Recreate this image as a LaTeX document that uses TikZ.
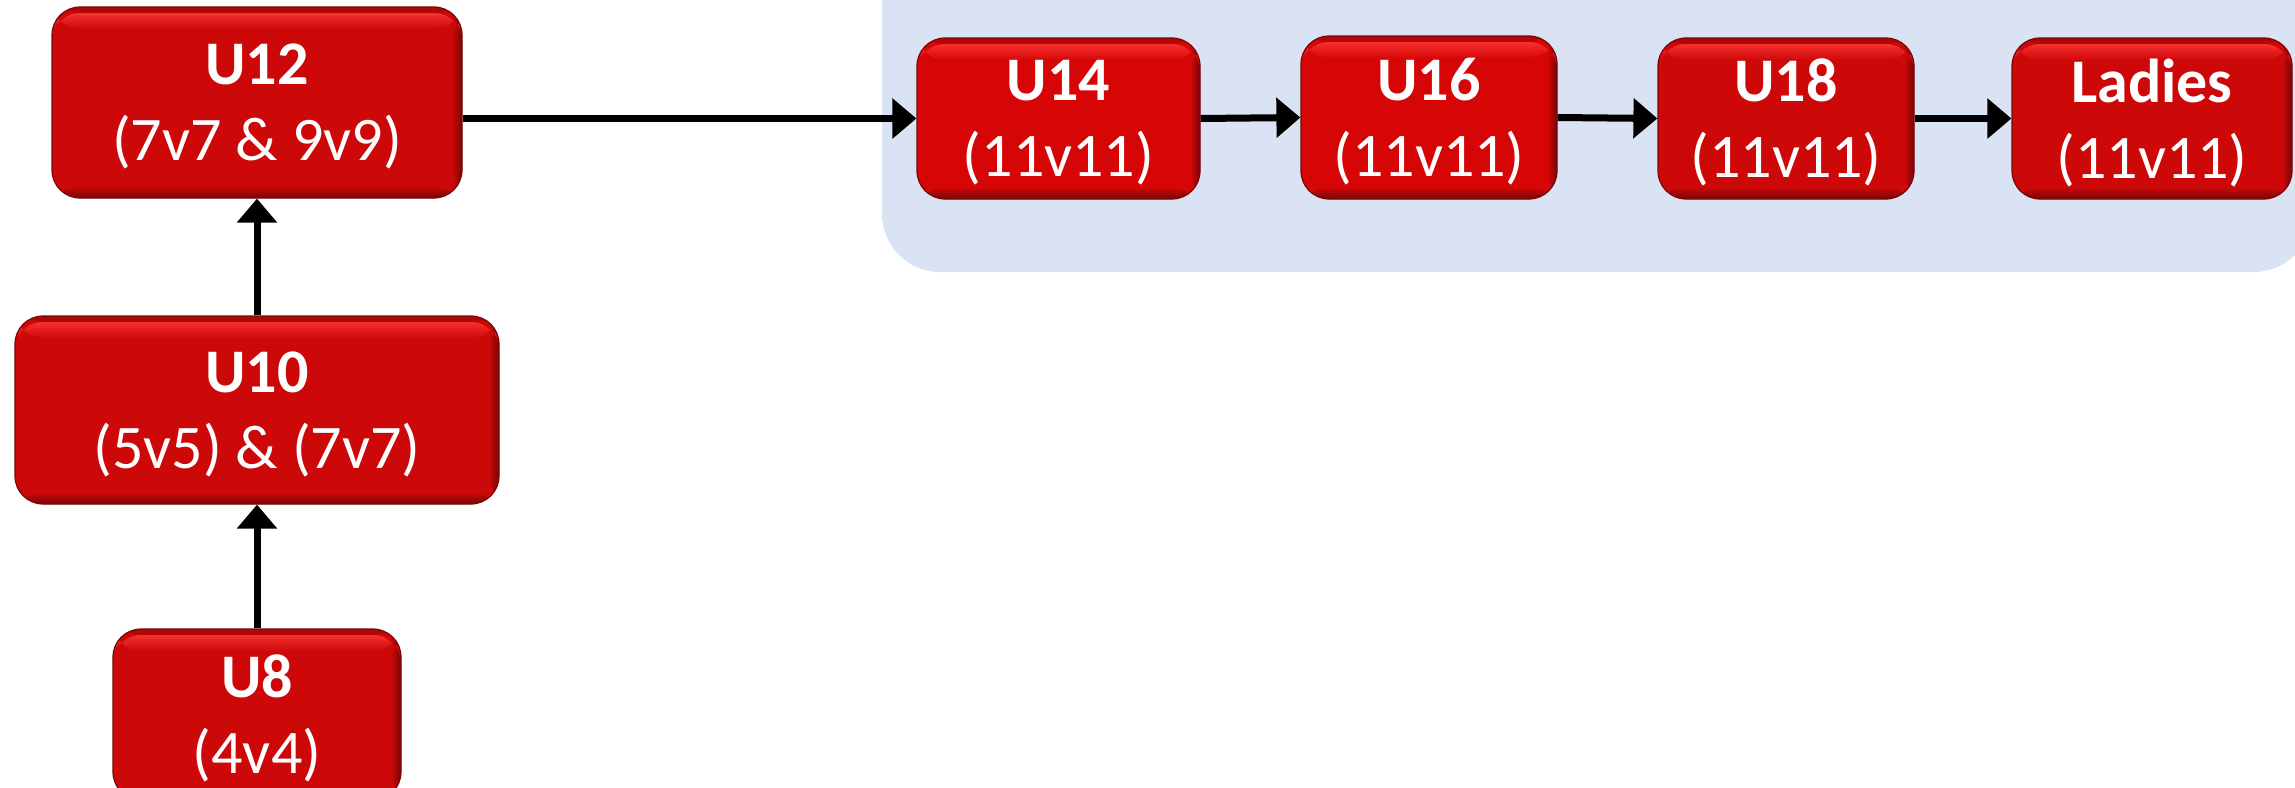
\documentclass[tikz,border=0pt]{standalone}
\usepackage{fontspec}
\setmainfont{Carlito}
\usetikzlibrary{arrows.meta}
\definecolor{boxred}{RGB}{204,8,8}
\definecolor{boxredb}{RGB}{214,6,6}
\definecolor{boxhl}{RGB}{248,48,48}
\definecolor{boxdark}{RGB}{120,6,6}
\definecolor{panelblue}{RGB}{218,227,243}
\begin{document}
\begin{tikzpicture}[x=0.5pt,y=-0.5pt,
  agebox/.style={rounded corners=14pt, fill=#1, draw=boxdark, line width=0.6pt,
    text=white, align=center, inner sep=0pt,
    font=\fontsize{31}{38}\selectfont,
    path picture={
      \shade[top color=#1!85!black, bottom color=boxhl]
        (path picture bounding box.north west) rectangle
        ([yshift=-3pt]path picture bounding box.north east);
      \shade[top color=boxhl, bottom color=#1]
        ([yshift=-3pt]path picture bounding box.north west) rectangle
        ([yshift=-11pt]path picture bounding box.north east);
      \shade[left color=#1, right color=boxdark]
        ([xshift=-5pt,yshift=-3pt]path picture bounding box.north east) rectangle
        (path picture bounding box.south east);
      \shade[top color=#1, bottom color=boxdark]
        ([yshift=6pt]path picture bounding box.south west) rectangle
        (path picture bounding box.south east);
    }},
  agebox/.default=boxred,
  conn/.style={line width=3.5pt, -{Triangle[length=12pt,width=19.5pt]}}]
\useasboundingbox (0,0) rectangle (2295,787);
% panel
\fill[panelblue, rounded corners=29pt] (882,-80) rectangle (2312,272);
% nodes
\node[agebox, minimum width=205pt, minimum height=95.5pt] (u12) at (257,102.5)
  {\textbf{U12}\\\smash{(7v7 \& 9v9)}};
\node[agebox, minimum width=242pt, minimum height=94pt] (u10) at (257,410)
  {\textbf{U10}\\\smash{(5v5) \& (7v7)}};
\node[agebox, minimum width=144pt, minimum height=85.5pt] (u8) at (257,714.5)
  {\textbf{U8}\\\smash{(4v4)}};
\node[agebox=boxredb, minimum width=141.5pt, minimum height=80.5pt] (u14) at (1058.5,118.5)
  {\textbf{U14}\\\smash{(11v11)}};
\node[agebox=boxredb, minimum width=128pt, minimum height=81.5pt] (u16) at (1429,117.5)
  {\textbf{U16}\\\smash{(11v11)}};
\node[agebox, minimum width=128pt, minimum height=80.5pt] (u18) at (1786,118.5)
  {\textbf{U18}\\\smash{(11v11)}};
\node[agebox, minimum width=140pt, minimum height=80.5pt] (lad) at (2152,118.5)
  {\textbf{Ladies}\\\smash{(11v11)}};
% connectors
\draw[conn] (u8.north) -- (u10.south);
\draw[conn] (u10.north) -- (u12.south);
\draw[conn] (u12.east |- u14.west) -- (u14.west);
\draw[conn] (u14.east) -- (u16.west);
\draw[conn] (u16.east) -- (u18.west);
\draw[conn] (u18.east) -- (lad.west);
\end{tikzpicture}
\end{document}
